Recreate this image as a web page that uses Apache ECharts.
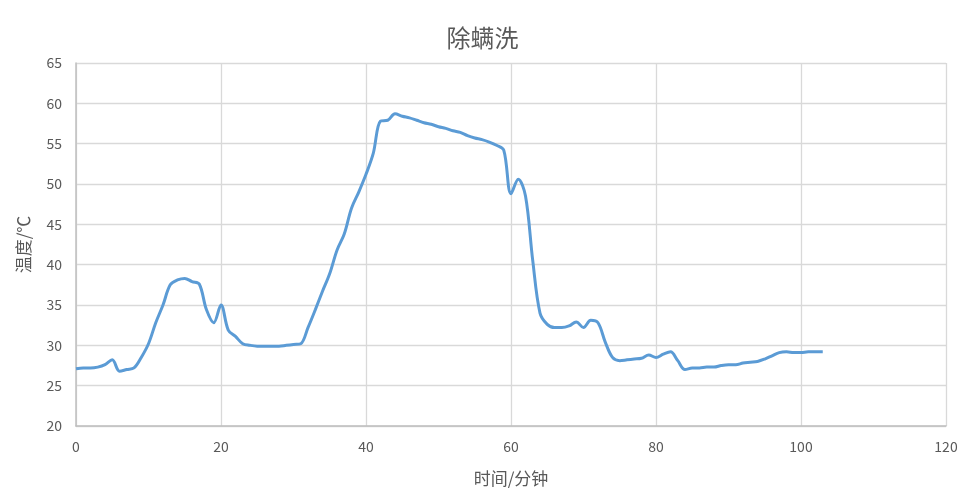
<!DOCTYPE html>
<html>
<head>
<meta charset="utf-8">
<script src="https://cdn.jsdelivr.net/npm/echarts@6/dist/echarts.min.js"></script>
<style>html,body{margin:0;padding:0;background:#fff}#c{width:965px;height:502px}</style>
</head>
<body>
<div id="c"></div>
<script>
var titleText = '除螨洗';
var xName = '时间/分钟';
var yName = '温度/℃';
var minutes = [];
for (var i = 0; i <= 103; i++) minutes.push(i);
var temps = [
27.1,27.2,27.2,27.3,27.6,28.2,26.8,27.0,27.2,28.5,
30.2,32.8,35.0,37.5,38.1,38.3,37.9,37.6,34.4,32.8,
35.0,31.9,31.1,30.2,30.0,29.9,29.9,29.9,29.9,30.0,
30.1,30.2,32.2,34.4,36.7,38.9,41.8,43.8,47.0,49.0,
51.2,53.8,57.8,57.9,58.7,58.4,58.2,57.9,57.6,57.4,
57.1,56.9,56.6,56.4,56.0,55.7,55.5,55.2,54.8,54.2,
48.8,50.6,48.5,40.5,34.0,32.6,32.2,32.2,32.4,32.9,
32.2,33.1,32.8,30.4,28.5,28.1,28.2,28.3,28.4,28.8,
28.5,28.9,29.2,28.1,27.0,27.2,27.2,27.3,27.3,27.5,
27.6,27.6,27.8,27.9,28.0,28.3,28.7,29.1,29.2,29.1,
29.1,29.2,29.2,29.2
];
var pts = minutes.map(function(m, i){ return [m, temps[i]]; });
var chart = echarts.init(document.getElementById('c'));
var font = '"Noto Sans CJK SC", "Noto Sans", sans-serif';
chart.setOption({
  animation: false,
  title: {
    text: titleText, left: 'center', top: 21,
    textStyle: {fontFamily: font, fontSize: 24, fontWeight: 'normal', color: '#595959'}
  },
  grid: {left: 76, right: 19, top: 63, bottom: 76},
  xAxis: {
    type: 'value', min: 0, max: 120, interval: 20,
    name: xName, nameLocation: 'middle', nameGap: 44,
    nameTextStyle: {fontFamily: font, fontSize: 17, color: '#595959'},
    axisLine: {lineStyle: {color: '#BFBFBF', width: 1.5}},
    axisTick: {show: false},
    axisLabel: {fontFamily: font, fontSize: 14, color: '#595959', margin: 14},
    splitLine: {show: true, lineStyle: {color: '#D9D9D9', width: 1.3}}
  },
  yAxis: {
    type: 'value', min: 20, max: 65, interval: 5,
    name: yName, nameLocation: 'middle', nameGap: 44, nameRotate: 90,
    nameTextStyle: {fontFamily: font, fontSize: 17, color: '#595959'},
    axisLine: {show: true, lineStyle: {color: '#BFBFBF', width: 1.5}},
    axisTick: {show: false},
    axisLabel: {fontFamily: font, fontSize: 14, color: '#595959', margin: 14},
    splitLine: {show: true, lineStyle: {color: '#D9D9D9', width: 1.3}}
  },
  series: [{
    type: 'line', data: pts, smooth: 0.35, showSymbol: false,
    lineStyle: {color: '#5B9BD5', width: 3}
  }]
});
</script>
</body>
</html>
